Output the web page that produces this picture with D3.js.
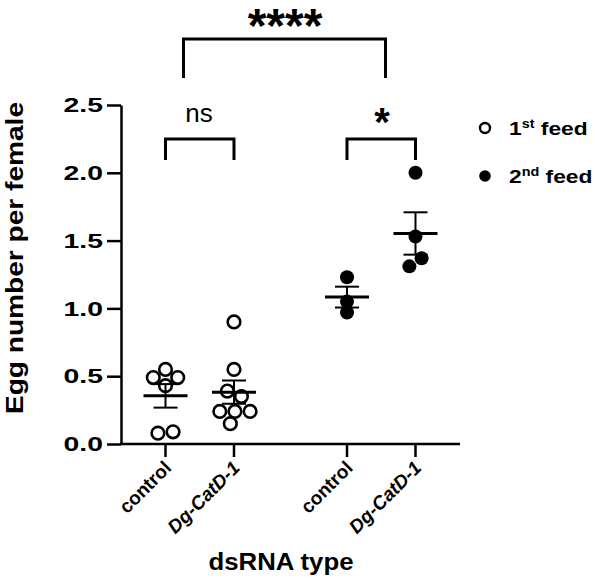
<!DOCTYPE html>
<html>
<head>
<meta charset="utf-8">
<script src="https://cdn.jsdelivr.net/npm/d3@7"></script>
<style>
  body { margin: 0; background: #fff; }
  text { font-family: "Liberation Sans", Arial, sans-serif; fill: #000; }
</style>
</head>
<body>
<div id="chart"></div>
<script>
// data
var dsRNA = ["control", "Dg-CatD-1"];
var feeds = ["1st feed", "2nd feed"];
var control1st = [0.49, 0.43, 0.49, 0.55, 0.08, 0.09];
var catd1st = [0.90, 0.55, 0.35, 0.39, 0.24, 0.24, 0.24, 0.15];
var control2nd = [1.23, 1.05, 0.97];
var catd2nd = [2.0, 1.53, 1.31, 1.37];
var yTicks = [0, 0.5, 1.0, 1.5, 2.0, 2.5];

var width = 595, height = 583;

var groups = [
  { feed: feeds[0], rna: dsRNA[0], values: control1st },
  { feed: feeds[0], rna: dsRNA[1], values: catd1st },
  { feed: feeds[1], rna: dsRNA[0], values: control2nd },
  { feed: feeds[1], rna: dsRNA[1], values: catd2nd }
];

var svg = d3.select("#chart").append("svg")
  .attr("width", width)
  .attr("height", height);

var y = d3.scaleLinear().domain([0, 2.5]).range([444, 105]);
var outer = d3.scaleBand().domain(feeds).range([109, 472]);
var inner = d3.scalePoint().domain(dsRNA).range([0, outer.bandwidth()]).padding(0.825);
function xOf(g) { return outer(g.feed) + inner(g.rna); }

// y axis
var yAxis = svg.append("g")
  .attr("transform", "translate(121,0)")
  .call(d3.axisLeft(y).tickValues(yTicks).tickFormat(d3.format(".1f")).tickSize(14).tickSizeOuter(0).tickPadding(4));
yAxis.select(".domain").attr("stroke-width", 2.5);
yAxis.selectAll(".tick line").attr("stroke-width", 2.5);
// the labels in the figure are drawn wide, so stretch them sideways
yAxis.selectAll(".tick text")
  .attr("x", 0)
  .attr("transform", "translate(-18,0) scale(1.35,1)")
  .style("font-size", "21px").style("font-weight", "bold")
  .style("font-family", "Liberation Sans, Arial, sans-serif");

// x axis (groups are not evenly spaced, so drawn by hand)
svg.append("line")
  .attr("x1", 120).attr("x2", 460).attr("y1", y(0)).attr("y2", y(0))
  .attr("stroke", "#000").attr("stroke-width", 2.5);

var xt = svg.selectAll(".xtick").data(groups).enter().append("g")
  .attr("class", "xtick")
  .attr("transform", function(d) { return "translate(" + xOf(d) + "," + y(0) + ")"; });
xt.append("line").attr("y2", 13).attr("stroke", "#000").attr("stroke-width", 2.5);
xt.append("text")
  .attr("transform", "translate(7,25) rotate(-45)")
  .attr("text-anchor", "end")
  .style("font-size", "19px").style("font-weight", "bold")
  .style("font-style", function(d) { return d.rna == "control" ? "normal" : "italic"; })
  .text(function(d) { return d.rna; });

svg.append("text")
  .attr("x", 281).attr("y", 570)
  .attr("text-anchor", "middle")
  .attr("textLength", 145).attr("lengthAdjust", "spacingAndGlyphs")
  .style("font-size", "23px").style("font-weight", "bold")
  .text("dsRNA type");

svg.append("text")
  .attr("transform", "translate(23,258) rotate(-90)")
  .attr("text-anchor", "middle")
  .attr("textLength", 312).attr("lengthAdjust", "spacingAndGlyphs")
  .style("font-size", "23px").style("font-weight", "bold")
  .text("Egg number per female");

// points, spread sideways like a beeswarm
groups.forEach(function(g, gi) {
  var cx = xOf(g);
  var nodes = g.values.map(function(v) { return { v: v, x: cx, y: y(v) }; });
  var sim = d3.forceSimulation(nodes)
    .force("x", d3.forceX(cx).strength(0.1))
    .force("y", d3.forceY(function(d) { return y(d.v); }).strength(1))
    .force("c", d3.forceCollide(7.6))
    .stop();
  for (var i = 0; i < 300; i++) sim.tick();

  var filled = g.feed == feeds[1];
  svg.append("g").selectAll("circle").data(nodes).enter().append("circle")
    .attr("cx", function(d) { return d.x; })
    .attr("cy", function(d) { return y(d.v); })
    .attr("r", filled ? 7 : 6.3)
    .attr("fill", filled ? "#000" : "#fff")
    .attr("fill-opacity", filled ? 1 : 0)
    .attr("stroke", "#000")
    .attr("stroke-width", filled ? 0 : 2.6);

  var m = d3.mean(g.values);
  var sem = d3.deviation(g.values) / Math.sqrt(g.values.length);
  var eb = svg.append("g").attr("stroke", "#000");
  eb.append("line").attr("x1", cx).attr("x2", cx).attr("y1", y(m - sem)).attr("y2", y(m + sem)).attr("stroke-width", 2);
  eb.append("line").attr("x1", cx - 12).attr("x2", cx + 12).attr("y1", y(m + sem)).attr("y2", y(m + sem)).attr("stroke-width", 2);
  eb.append("line").attr("x1", cx - 12).attr("x2", cx + 12).attr("y1", y(m - sem)).attr("y2", y(m - sem)).attr("stroke-width", 2);
  eb.append("line").attr("x1", cx - 22).attr("x2", cx + 22).attr("y1", y(m)).attr("y2", y(m)).attr("stroke-width", 3);
});

// significance brackets
function bracket(x1, x2, yTop, yBot) {
  svg.append("path")
    .attr("d", "M" + x1 + "," + yBot + "V" + yTop + "H" + x2 + "V" + yBot)
    .attr("fill", "none").attr("stroke", "#000").attr("stroke-width", 3);
}
bracket(xOf(groups[0]), xOf(groups[1]), 139, 160);
bracket(xOf(groups[2]), xOf(groups[3]), 139, 160);
bracket(xOf(groups[0]) + 18, xOf(groups[3]) - 30, 39, 78);

svg.append("text").attr("x", 199).attr("y", 122).attr("text-anchor", "middle")
  .style("font-size", "26px").text("ns");
svg.append("text").attr("x", 382).attr("y", 136).attr("text-anchor", "middle")
  .style("font-size", "40px").style("font-weight", "bold").text("*");
svg.append("text").attr("x", 285).attr("y", 42).attr("text-anchor", "middle")
  .style("font-size", "48px").style("font-weight", "bold").text("****");

// legend
var sup = ["st", "nd"];
var legend = svg.selectAll(".leg").data(feeds).enter().append("g")
  .attr("class", "leg")
  .attr("transform", function(d, i) { return "translate(485," + (128 + i * 48) + ")"; });
legend.append("circle")
  .attr("r", function(d, i) { return i == 0 ? 5 : 5.8; })
  .attr("fill", function(d, i) { return i == 0 ? "#fff" : "#000"; })
  .attr("stroke", "#000")
  .attr("stroke-width", function(d, i) { return i == 0 ? 2.4 : 0; });
var lt = legend.append("text")
  .attr("transform", "translate(24,7) scale(1.2,1)")
  .style("font-size", "19px").style("font-weight", "bold");
lt.append("tspan").text(function(d) { return d.charAt(0); });
lt.append("tspan").attr("dy", -7).style("font-size", "12px").text(function(d, i) { return sup[i]; });
lt.append("tspan").attr("dy", 7).text(function(d) { return " " + d.split(" ")[1]; });
</script>
</body>
</html>
